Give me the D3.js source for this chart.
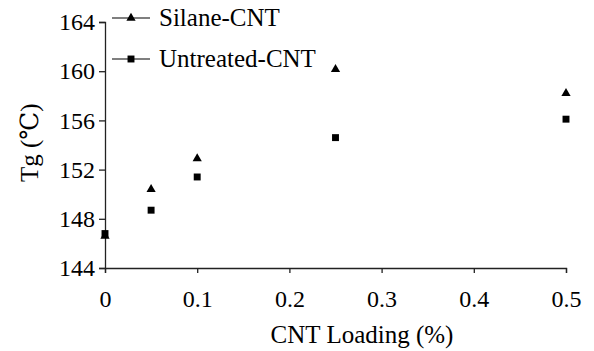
<!DOCTYPE html>
<html><head><meta charset="utf-8">
<script src="https://cdn.jsdelivr.net/npm/d3@7"></script>
<style>body{margin:0;background:#fff}svg{display:block}</style>
</head><body>
<svg id="c" width="594" height="351"></svg>
<script>
const loading = [0, 0.05, 0.1, 0.25, 0.5];
const silane = [146.6, 150.4, 152.9, 160.15, 158.2];
const untreated = [146.8, 148.7, 151.4, 154.6, 156.1];
const xTicks = [0, 0.1, 0.2, 0.3, 0.4, 0.5];
const yTicks = [144, 148, 152, 156, 160, 164];
const seriesNames = ["Silane-CNT", "Untreated-CNT"];

const FONT = "'Liberation Serif', Tinos, 'Times New Roman', 'DejaVu Serif', serif";
const svg = d3.select("#c");
const x = d3.scaleLinear().domain([0, 0.5]).range([105, 566]);
const y = d3.scaleLinear().domain([144, 164]).range([268, 22]);

const xAxis = svg.append("g").attr("transform", "translate(0,268)")
  .call(d3.axisBottom(x).tickValues(xTicks).tickFormat(d => d === 0 ? "0" : d3.format(".1f")(d)).tickSize(5).tickPadding(17));
const yAxis = svg.append("g").attr("transform", "translate(105,0)")
  .call(d3.axisLeft(y).tickValues(yTicks).tickSize(6).tickPadding(4));
[xAxis, yAxis].forEach(g => {
  g.attr("font-family", null).attr("font-size", null);
  g.selectAll("path,line").attr("stroke", "#222").attr("stroke-width", 1.3);
  g.selectAll("text").style("font-family", FONT).style("font-size", "24px").attr("fill", "#000");
});

const tri = d3.symbol().type(d3.symbolTriangle).size(37);
const sq = d3.symbol().type(d3.symbolSquare).size(48);

svg.append("g").selectAll("path").data(loading.map((l, i) => [l, silane[i]]))
  .join("path").attr("d", tri).attr("transform", d => `translate(${x(d[0])},${y(d[1])})`).attr("fill", "#000");
svg.append("g").selectAll("path").data(loading.map((l, i) => [l, untreated[i]]))
  .join("path").attr("d", sq).attr("transform", d => `translate(${x(d[0])},${y(d[1])})`).attr("fill", "#000");

// legend
const leg = svg.append("g");
seriesNames.forEach((name, i) => {
  const ly = 18 + i * 41;
  leg.append("line").attr("x1", 112).attr("x2", 150).attr("y1", ly).attr("y2", ly).attr("stroke", "#000").attr("stroke-width", 1.2);
  leg.append("path").attr("d", i === 0 ? tri : sq).attr("transform", `translate(131,${ly})`).attr("fill", "#000");
  leg.append("text").attr("x", 159).attr("y", ly + 8).style("font-family", FONT).style("font-size", "25px").text(name);
});

svg.append("text").attr("x", 362).attr("y", 343).attr("text-anchor", "middle").style("font-family", FONT).style("font-size", "25px").text("CNT Loading (%)");
svg.append("text").attr("transform", "translate(38,182) rotate(-90)").attr("text-anchor", "start").style("font-family", FONT).style("font-size", "25px").text("Tg (℃)");
</script>
</body></html>
